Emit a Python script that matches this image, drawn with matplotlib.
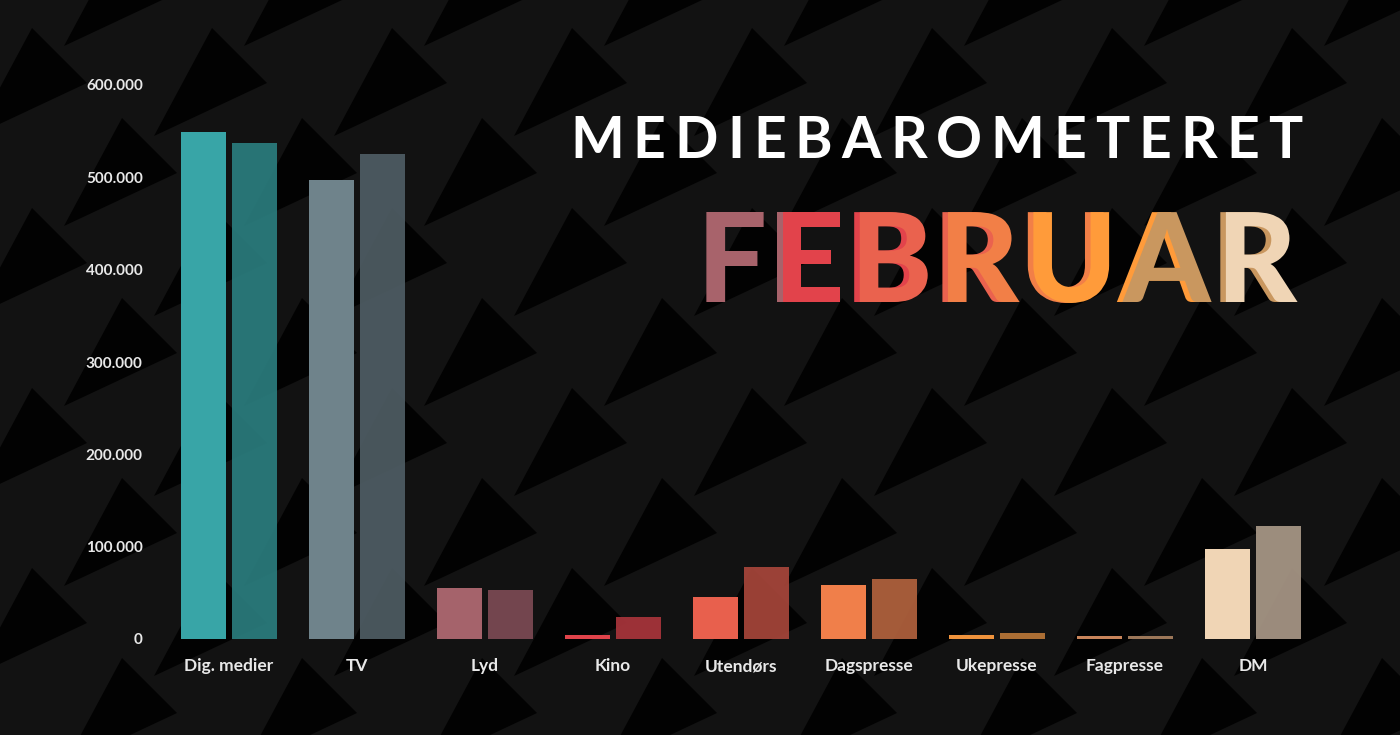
import numpy as np
import matplotlib
matplotlib.use("Agg")
import matplotlib.pyplot as plt
import matplotlib.patheffects as pe
from matplotlib.collections import PolyCollection
from matplotlib.ticker import FuncFormatter

# data
categories = ["Dig. medier", "TV", "Lyd", "Kino", "Utendørs",
              "Dagspresse", "Ukepresse", "Fagpresse", "DM"]
serie_1 = [549000, 497000, 55000, 4000, 46000, 58000, 4000, 3000, 98000]
serie_2 = [537000, 525000, 53000, 24000, 78000, 65000, 6000, 3500, 122000]
yticks = [0, 100000, 200000, 300000, 400000, 500000, 600000]

farger_1 = ["#38a5a7", "#6f838b", "#a5636b", "#e0434a", "#e8604d",
            "#f07f4a", "#f0933c", "#c8845a", "#f0d5b5"]
farger_2 = ["#2a7c7d", "#4e5c63", "#7b4a53", "#a8343b", "#a6453a",
            "#b0613d", "#b87637", "#a8805f", "#a89786"]

tittel = "MEDIEBAROMETERET"
maaned = "FEBRUAR"
maaned_farger = ["#a8636b", "#e2434b", "#ea624e", "#f27f47", "#ff9b3a",
                 "#c9975f", "#f0d5b5"]

W, H = 1400, 735
plt.rcParams["font.family"] = ["Lato", "DejaVu Sans"]

fig = plt.figure(figsize=(W / 100, H / 100), dpi=100, facecolor="#121212")

# background with black triangle pattern, pixel coordinates
bg = fig.add_axes([0, 0, 1, 1], zorder=-1)
bg.set_xlim(0, W)
bg.set_ylim(H, 0)
bg.axis("off")
tris = []
for j in range(-8, 8):
    for i in range(-8, 10):
        ax0 = 572 + 180 * i + 90 * j
        ay0 = 388 + 90 * j
        if -250 < ax0 < W + 250 and -150 < ay0 < H + 50:
            tris.append([(ax0, ay0), (ax0 + 55, ay0 + 55), (ax0 - 58, ay0 + 108)])
bg.add_collection(PolyCollection(tris, facecolors="#020202", edgecolors="none"))

# bar chart
ax = fig.add_axes([165 / W, (H - 639) / H, 1152 / W, 554 / H])
ax.set_facecolor("none")
x = np.arange(len(categories))
bw = 45 / 128
off = 25.5 / 128
ax.bar(x - off, serie_1, width=bw, color=farger_1, zorder=2)
ax.bar(x + off, serie_2, width=bw, color=farger_2, alpha=0.93, zorder=2)
ax.set_xlim(-0.5, len(categories) - 0.5)
ax.set_ylim(0, 600000)
ax.set_yticks(yticks)
ax.yaxis.set_major_formatter(FuncFormatter(lambda v, p: f"{int(v):,}".replace(",", ".")))
ax.set_xticks(x)
ax.set_xticklabels(categories)
for s in ax.spines.values():
    s.set_visible(False)
ax.tick_params(axis="y", length=0, pad=16, labelsize=11, labelcolor="#e8e8e8")
ax.tick_params(axis="x", length=0, pad=14, labelsize=12.5, labelcolor="#e8e8e8")
for lab in ax.get_yticklabels() + ax.get_xticklabels():
    lab.set_fontweight("bold")

# headline letters, spread over a given span
renderer = fig.canvas.get_renderer()


def spre_bokstaver(tekst, x0, x1, baseline, size, weight, colors,
                   min_gap=None, shadow=None):
    texts = [bg.text(0, baseline, ch, fontsize=size, fontweight=weight,
                     color=colors[k], ha="left", va="baseline", zorder=3)
             for k, ch in enumerate(tekst)]
    widths = [t.get_window_extent(renderer).width for t in texts]
    n = len(texts)
    if min_gap is not None and sum(widths) + (n - 1) * min_gap > x1 - x0:
        scale = (x1 - x0 - (n - 1) * min_gap) / sum(widths)
        for t in texts:
            t.set_fontsize(size * scale)
        widths = [w * scale for w in widths]
    gap = (x1 - x0 - sum(widths)) / (n - 1)
    pos = x0
    for k, t in enumerate(texts):
        t.set_x(pos)
        if shadow is not None and k > 0:
            t.set_path_effects([
                pe.SimplePatchShadow(offset=(-shadow, 0),
                                     shadow_rgbFace=colors[k - 1], alpha=1.0),
                pe.Normal()])
        pos += widths[k] + gap


spre_bokstaver(tittel, 570, 1302, 158, 41, "bold", ["white"] * len(tittel))
spre_bokstaver(maaned, 697, 1297, 302, 99, "black", maaned_farger,
               min_gap=6, shadow=4)

fig.savefig("out.png", dpi=100, facecolor=fig.get_facecolor())
